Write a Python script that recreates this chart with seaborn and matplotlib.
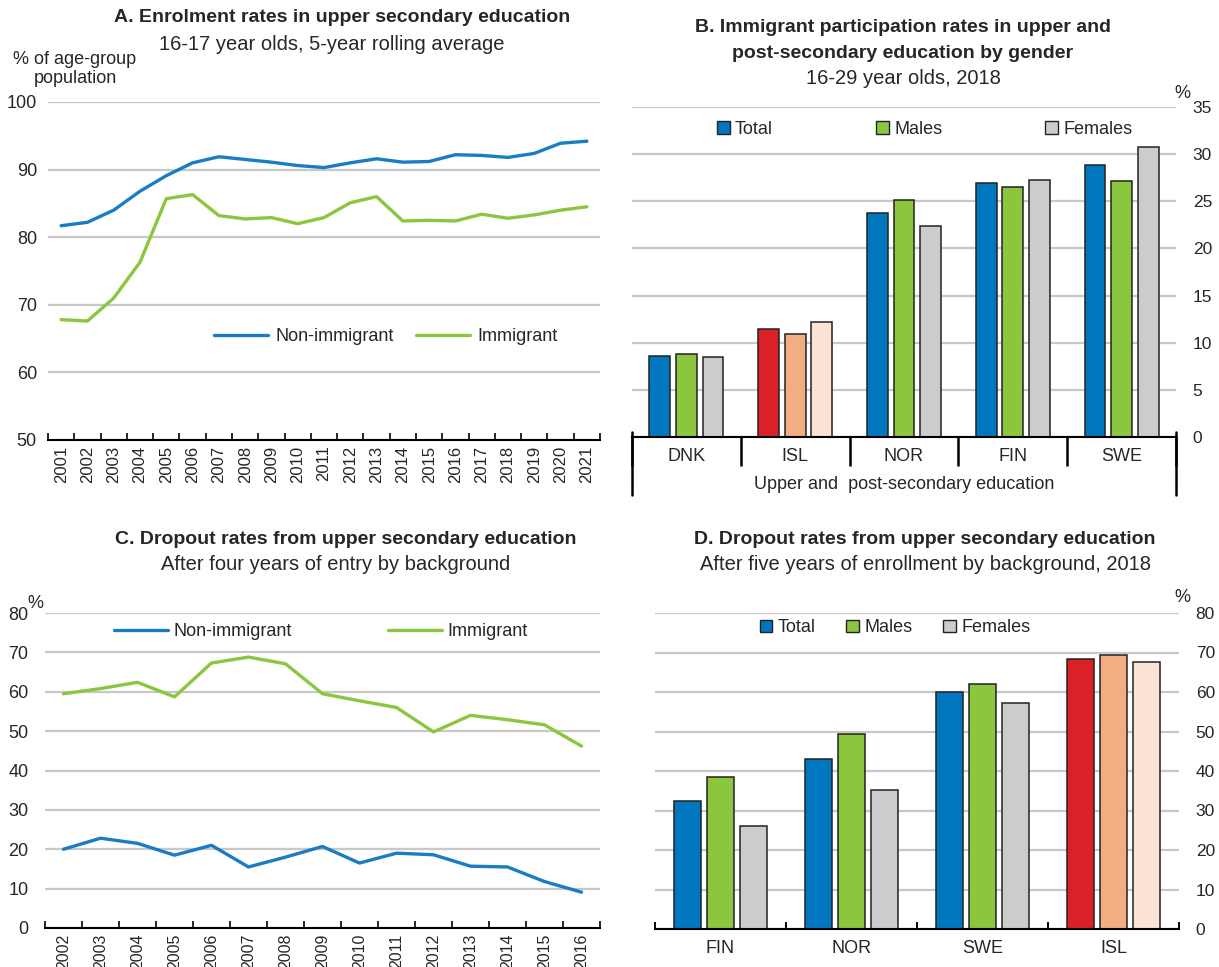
import numpy as np
import pandas as pd
import matplotlib
matplotlib.use("Agg")
import matplotlib.pyplot as plt
from matplotlib.patches import Patch
from matplotlib.lines import Line2D
import seaborn as sns

# ---------------- data ----------------
years_a = [str(y) for y in range(2001, 2022)]
a_non_immigrant = [81.7, 82.2, 84.0, 86.8, 89.1, 91.0, 91.9, 91.5, 91.1, 90.6, 90.3,
                   91.0, 91.6, 91.1, 91.2, 92.2, 92.1, 91.8, 92.4, 93.9, 94.2]
a_immigrant = [67.8, 67.6, 71.0, 76.3, 85.7, 86.3, 83.2, 82.7, 82.9, 82.0, 82.9,
               85.1, 86.0, 82.4, 82.5, 82.4, 83.4, 82.8, 83.3, 84.0, 84.5]

b_countries = ["DNK", "ISL", "NOR", "FIN", "SWE"]
b_total = [8.6, 11.5, 23.8, 26.9, 28.8]
b_males = [8.8, 10.9, 25.1, 26.5, 27.1]
b_females = [8.5, 12.2, 22.4, 27.3, 30.8]

years_c = [str(y) for y in range(2002, 2017)]
c_non_immigrant = [20.0, 22.8, 21.5, 18.5, 21.0, 15.5, 18.0, 20.7, 16.5, 19.0, 18.6,
                   15.7, 15.5, 11.8, 9.1]
c_immigrant = [59.5, 60.8, 62.4, 58.7, 67.3, 68.8, 67.1, 59.5, 57.7, 56.0, 49.8,
               54.0, 52.9, 51.6, 46.2]

d_countries = ["FIN", "NOR", "SWE", "ISL"]
d_total = [32.3, 43.0, 59.9, 68.4]
d_males = [38.5, 49.4, 62.1, 69.4]
d_females = [26.1, 35.3, 57.3, 67.6]

series_names = ["Total", "Males", "Females"]

# ---------------- style ----------------
sns.set_theme(style="white")
FONT = ["Liberation Sans", "DejaVu Sans"]
plt.rcParams["font.family"] = FONT
plt.rcParams["font.size"] = 13

BLUE = "#0077BE"
GREEN = "#8CC63F"
GRAY = "#CCCCCC"
RED = "#DA2128"
ORANGE = "#F2AE82"
PEACH = "#FBE3D6"
LBLUE = "#1A7DC4"
GRID = "#C8C8C8"
EDGE = "#222222"

fig = plt.figure(figsize=(12.19, 9.67), dpi=100)
W, H = 1219, 967


def px_axes(l, t, r, b):
    return fig.add_axes([l / W, 1 - b / H, (r - l) / W, (b - t) / H])


def style_common(ax):
    for s in ["top", "right", "left"]:
        ax.spines[s].set_visible(False)
    ax.spines["bottom"].set_color("black")
    ax.spines["bottom"].set_linewidth(1.5)
    ax.yaxis.grid(True, color=GRID, linewidth=1.6)
    ax.xaxis.grid(False)
    ax.set_axisbelow(True)
    ax.set_xlabel("")
    ax.set_ylabel("")


def line_panel(ax, years, s1, s2, ylim, yticks, pad, xfs):
    x = np.arange(len(years))
    df = pd.DataFrame({"x": np.concatenate([x, x]),
                       "v": s1 + s2,
                       "s": ["Non-immigrant"] * len(x) + ["Immigrant"] * len(x)})
    sns.lineplot(data=df, x="x", y="v", hue="s", palette=[LBLUE, GREEN],
                 linewidth=2.4, ax=ax, legend=False)
    style_common(ax)
    ax.set_xlim(-0.5, len(years) - 0.5)
    ax.set_ylim(*ylim)
    ax.set_yticks(yticks)
    ax.set_xticks(x)
    ax.set_xticklabels(years, rotation=90, fontsize=xfs)
    ax.set_xticks(np.arange(-0.5, len(years)), minor=True)
    ax.tick_params(axis="x", which="major", length=0, pad=4)
    ax.tick_params(axis="x", which="minor", direction="in", length=5, width=1.2,
                   color="black", bottom=True)
    ax.tick_params(axis="y", length=0, pad=pad, labelsize=13)


# ---------------- Panel A ----------------
axA = px_axes(48, 102, 600, 440)
line_panel(axA, years_a, a_non_immigrant, a_immigrant, (50, 100),
           range(50, 101, 10), 8, 12)
hA = [Line2D([], [], color=LBLUE, lw=2.4), Line2D([], [], color=GREEN, lw=2.4)]
axA.legend(hA, ["Non-immigrant", "Immigrant"], loc="center",
           bbox_to_anchor=(0.612, 0.305), ncol=2, frameon=False, fontsize=13,
           handlelength=3.0, handletextpad=0.4, columnspacing=1.2)
fig.text(342 / W, 1 - 18 / H, "A. Enrolment rates in upper secondary education",
         ha="center", va="center", fontsize=14, fontweight="bold")
fig.text(332 / W, 1 - 45 / H, "16-17 year olds, 5-year rolling average",
         ha="center", va="center", fontsize=14.5)
fig.text(75 / W, 1 - 69 / H, "% of age-group\npopulation", ha="center",
         va="center", fontsize=13, multialignment="center", linespacing=1.1)

# ---------------- Panel C ----------------
axC = px_axes(45, 613, 600, 928)
line_panel(axC, years_c, c_non_immigrant, c_immigrant, (0, 80),
           range(0, 81, 10), 12, 11.5)
axC.legend(hA, ["Non-immigrant", "Immigrant"], loc="center",
           bbox_to_anchor=(0.497, 0.94), ncol=2, frameon=False, fontsize=13,
           handlelength=3.0, handletextpad=0.3, columnspacing=5.3)
fig.text(346 / W, 1 - 540 / H, "C. Dropout rates from upper secondary education",
         ha="center", va="center", fontsize=14, fontweight="bold")
fig.text(336 / W, 1 - 565 / H, "After four years of entry by background",
         ha="center", va="center", fontsize=14.5)
fig.text(35 / W, 1 - 604 / H, "%", ha="center", va="center", fontsize=13)


# ---------------- bar panels ----------------
def bar_panel(ax, countries, t, m, f, ylim, yticks, width, gap):
    df = pd.DataFrame({"c": countries * 3,
                       "v": t + m + f,
                       "s": sum([[s] * len(countries) for s in series_names], [])})
    sns.barplot(data=df, x="c", y="v", hue="s", order=countries,
                hue_order=series_names, palette=[BLUE, GREEN, GRAY],
                width=width, gap=gap, edgecolor=EDGE, linewidth=1.1,
                ax=ax, legend=False, saturation=1)
    isl = countries.index("ISL")
    for cont, col in zip(ax.containers, [RED, ORANGE, PEACH]):
        cont.patches[isl].set_facecolor(col)
    style_common(ax)
    ax.set_xlim(-0.5, len(countries) - 0.5)
    ax.set_ylim(*ylim)
    ax.set_yticks(yticks)
    ax.yaxis.tick_right()
    ax.tick_params(axis="y", length=0, pad=12, labelsize=12.5, right=False)
    ax.set_xticks(np.arange(-0.5, len(countries)), minor=True)
    ax.tick_params(axis="x", which="major", length=0, labelsize=13)


def sq_handles():
    return [Patch(facecolor=c, edgecolor=EDGE, linewidth=1.0) for c in [BLUE, GREEN, GRAY]]


# Panel B
axB = px_axes(632, 107, 1176, 437)
bar_panel(axB, b_countries, b_total, b_males, b_females, (0, 35),
          range(0, 36, 5), 0.735, 0.22)
axB.tick_params(axis="x", which="major", pad=8)
axB.tick_params(axis="x", which="minor", direction="out", length=21, width=1.8,
                color="black", bottom=True)
for xb in [-0.5, len(b_countries) - 0.5]:
    axB.plot([xb, xb], [0.015, -0.176], transform=axB.get_xaxis_transform(),
             color="black", lw=1.8, clip_on=False)
axB.set_xlabel("Upper and  post-secondary education", fontsize=13, labelpad=4)
axB.legend(sq_handles(), series_names, loc="center", bbox_to_anchor=(0.538, 0.933),
           ncol=3, frameon=False, fontsize=13, handlelength=0.7, handleheight=0.7,
           handletextpad=0.3, columnspacing=5.7)
fig.text(903 / W, 1 - 28 / H, "B. Immigrant participation rates in upper and",
         ha="center", va="center", fontsize=14, fontweight="bold")
fig.text(903 / W, 1 - 53 / H, "post-secondary education by gender",
         ha="center", va="center", fontsize=14, fontweight="bold")
fig.text(903 / W, 1 - 78 / H, "16-29 year olds, 2018",
         ha="center", va="center", fontsize=14.5)
fig.text(1182 / W, 1 - 93 / H, "%", ha="center", va="center", fontsize=13)

# Panel D
axD = px_axes(655, 613, 1179, 929)
bar_panel(axD, d_countries, d_total, d_males, d_females, (0, 80),
          range(0, 81, 10), 0.756, 0.21)
axD.tick_params(axis="x", which="major", pad=8)
axD.tick_params(axis="x", which="minor", direction="in", length=5, width=1.4,
                color="black", bottom=True)
axD.legend(sq_handles(), series_names, loc="center", bbox_to_anchor=(0.458, 0.953),
           ncol=3, frameon=False, fontsize=13, handlelength=0.7, handleheight=0.7,
           handletextpad=0.3, columnspacing=1.7)
fig.text(925 / W, 1 - 540 / H, "D. Dropout rates from upper secondary education",
         ha="center", va="center", fontsize=14, fontweight="bold")
fig.text(925 / W, 1 - 565 / H, "After five years of enrollment by background, 2018",
         ha="center", va="center", fontsize=14.5)
fig.text(1182 / W, 1 - 598 / H, "%", ha="center", va="center", fontsize=13)

fig.savefig("out.png", dpi=100)
